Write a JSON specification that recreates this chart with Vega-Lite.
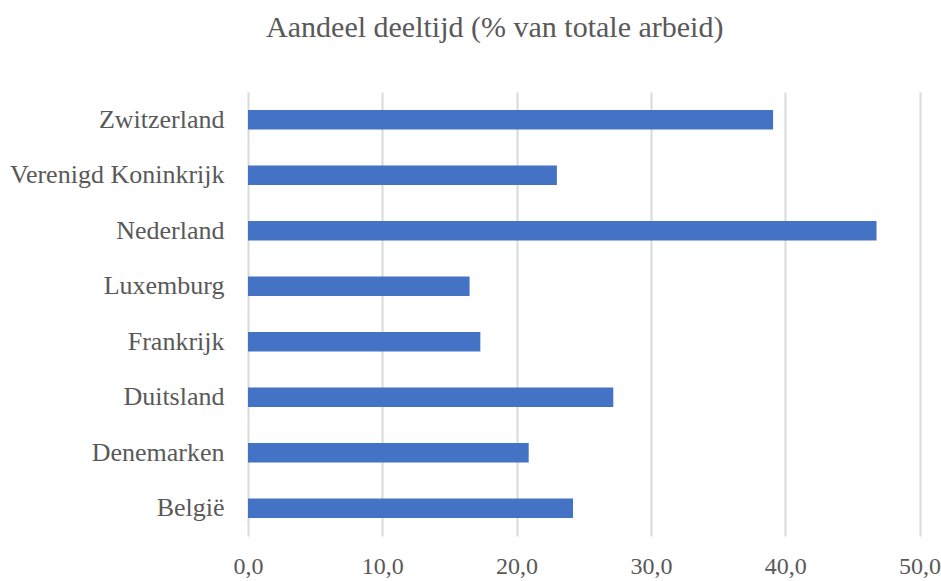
{
  "$schema": "https://vega.github.io/schema/vega-lite/v6.json",
  "width": 671.5,
  "height": 444,
  "autosize": "none",
  "padding": {"left": 248, "top": 92, "right": 21.5, "bottom": 45},
  "background": "white",
  "title": {
    "text": "Aandeel deeltijd (% van totale arbeid)",
    "font": "Liberation Serif",
    "fontSize": 30,
    "fontWeight": "normal",
    "color": "#595959",
    "anchor": "middle",
    "frame": "group",
    "dx": -89,
    "baseline": "alphabetic",
    "offset": 25
  },
  "data": {
    "values": [
      {"land": "Zwitzerland", "pct": 39.1},
      {"land": "Verenigd Koninkrijk", "pct": 23.0},
      {"land": "Nederland", "pct": 46.8},
      {"land": "Luxemburg", "pct": 16.5},
      {"land": "Frankrijk", "pct": 17.3},
      {"land": "Duitsland", "pct": 27.2},
      {"land": "Denemarken", "pct": 20.9},
      {"land": "België", "pct": 24.2}
    ]
  },
  "mark": {"type": "bar", "color": "#4472C4"},
  "encoding": {
    "y": {
      "field": "land",
      "type": "nominal",
      "sort": null,
      "scale": {"paddingInner": 0.65, "paddingOuter": 0.325},
      "axis": {
        "title": null,
        "domain": false,
        "ticks": false,
        "labelPadding": 24,
        "labelFont": "Liberation Serif",
        "labelFontSize": 26,
        "labelColor": "#595959",
        "labelLimit": 400
      }
    },
    "x": {
      "field": "pct",
      "type": "quantitative",
      "scale": {"domain": [0, 50], "nice": false},
      "axis": {
        "title": null,
        "values": [0, 10, 20, 30, 40, 50],
        "labelExpr": "replace(format(datum.value, '.1f'), '.', ',')",
        "domain": false,
        "ticks": false,
        "grid": true,
        "gridColor": "#D9D9D9",
        "gridWidth": 2,
        "labelPadding": 18,
        "labelFont": "Liberation Serif",
        "labelFontSize": 24,
        "labelColor": "#595959",
        "labelFlush": false,
        "labelOverlap": false,
        "labelBound": false
      }
    }
  },
  "config": {"view": {"stroke": null}}
}
